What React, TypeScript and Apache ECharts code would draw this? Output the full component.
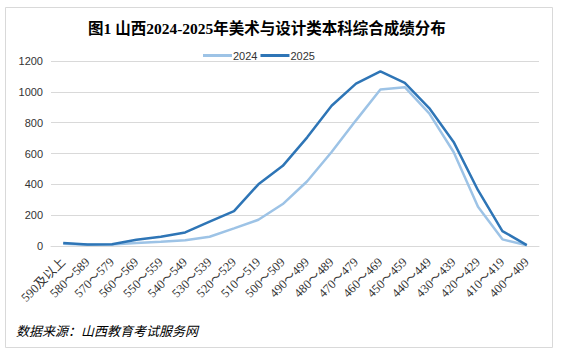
import React, { useEffect, useRef } from "react";
import * as echarts from "echarts";

const categories = [
  "590及以上", "580～589", "570～579", "560～569", "550～559", "540～549", "530～539",
  "520～529", "510～519", "500～509", "490～499", "480～489", "470～479", "460～469",
  "450～459", "440～449", "430～439", "420～429", "410～419", "400～409",
];
const values2024 = [15, 8, 10, 20, 28, 37, 60, 114, 170, 272, 420, 610, 815, 1015, 1030, 860, 610, 254, 43, 5];
const values2025 = [20, 10, 12, 40, 60, 88, 158, 226, 400, 520, 705, 910, 1053, 1133, 1058, 895, 675, 362, 97, 6];
const yTicks = { min: 0, max: 1200, interval: 200 };
const titleText = "图1 山西2024-2025年美术与设计类本科综合成绩分布";
const sourceText = "数据来源：山西教育考试服务网";

export default function App() {
  const ref = useRef<HTMLDivElement>(null);
  useEffect(() => {
    if (!ref.current) return;
    const chart = echarts.init(ref.current, undefined, { renderer: "svg" });
    chart.setOption({
      animation: false,
      backgroundColor: "#ffffff",
      title: {
        text: titleText,
        left: 83,
        top: 16,
        textStyle: {
          fontFamily: "'Liberation Serif', 'Noto Sans CJK SC', serif",
          fontWeight: "bold",
          fontSize: 15.5,
          color: "#000",
        },
      },
      legend: {
        top: 45,
        left: 198,
        itemWidth: 29,
        itemHeight: 3,
        itemGap: 3,
        icon: "rect",
        textStyle: { fontFamily: "'Liberation Sans', Arial", fontSize: 11, color: "#333", padding: [0, 0, 0, -4] },
        data: ["2024", "2025"],
      },
      grid: { left: 51, right: 22, top: 61, bottom: 111 },
      xAxis: {
        type: "category",
        data: categories,
        boundaryGap: true,
        axisLine: { lineStyle: { color: "#d9d9d9" } },
        axisTick: { show: false },
        axisLabel: {
          rotate: 45,
          interval: 0,
          margin: 14,
          fontFamily: "'Liberation Serif', 'Noto Sans CJK SC'",
          fontSize: 12.5,
          color: "#333",
        },
      },
      yAxis: {
        type: "value",
        min: yTicks.min,
        max: yTicks.max,
        interval: yTicks.interval,
        axisLine: { show: false },
        axisTick: { show: false },
        splitLine: { lineStyle: { color: "#d9d9d9" } },
        axisLabel: {
          margin: 8,
          formatter: (v: number) => String(v),
          fontFamily: "'Liberation Sans', Arial",
          fontSize: 11,
          color: "#333",
        },
      },
      series: [
        {
          name: "2024",
          type: "line",
          data: values2024,
          symbol: "none",
          lineStyle: { width: 2.5, color: "#9dc3e6" },
          itemStyle: { color: "#9dc3e6" },
        },
        {
          name: "2025",
          type: "line",
          data: values2025,
          symbol: "none",
          lineStyle: { width: 2.5, color: "#2e75b6" },
          itemStyle: { color: "#2e75b6" },
        },
      ],
      graphic: [
        {
          type: "rect",
          shape: { x: 5.5, y: 7.5, width: 547, height: 340 },
          style: { fill: "none", stroke: "#d9d9d9", lineWidth: 1 },
          silent: true,
        },
        {
          type: "text",
          left: 16,
          top: 324,
          style: {
            text: sourceText,
            font: "italic 13px 'Noto Sans CJK SC'",
            fill: "#000",
          },
        },
      ],
    });
    return () => chart.dispose();
  }, []);
  return (
    <div
      ref={ref}
      style={{ position: "fixed", left: 0, top: 0, width: 561, height: 357 }}
    />
  );
}
